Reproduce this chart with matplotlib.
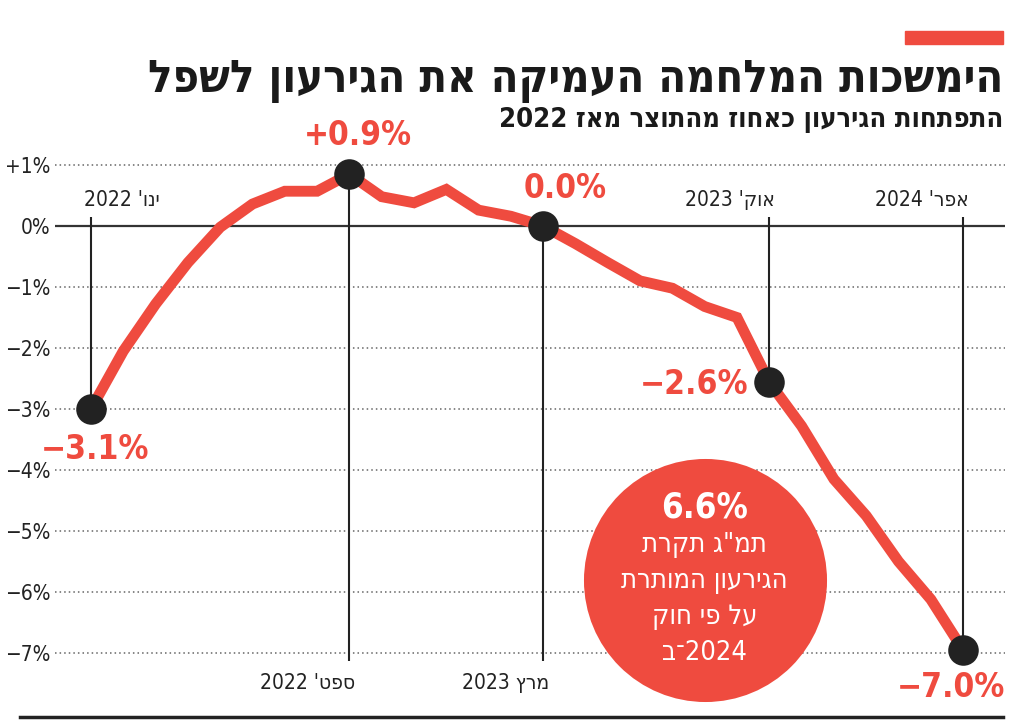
import re
import numpy as np
import matplotlib
matplotlib.use("Agg")
import matplotlib.pyplot as plt

# data: budget deficit as % of GDP, monthly Jan 2022 .. Apr 2024
months = list(range(28))
deficit = [-3.0, -2.05, -1.28, -0.6, -0.02, 0.36, 0.57, 0.57, 0.85, 0.48, 0.38, 0.6,
           0.26, 0.16, 0.0, -0.29, -0.6, -0.9, -1.02, -1.32, -1.5, -2.56,
           -3.28, -4.15, -4.75, -5.5, -6.12, -6.95]
key_idx = [0, 8, 14, 21, 27]
key_labels = ["\u22123.1%", "+0.9%", "0.0%", "\u22122.6%", "\u22127.0%"]
key_dates = ["ינו' 2022", "ספט' 2022", "מרץ 2023", "אוק' 2023", "אפר' 2024"]
yticks = [1, 0, -1, -2, -3, -4, -5, -6, -7]
ytick_labels = ["+1%", "0%", "\u22121%", "\u22122%", "\u22123%", "\u22124%", "\u22125%", "\u22126%", "\u22127%"]

title = "הימשכות המלחמה העמיקה את הגירעון לשפל"
subtitle = "התפתחות הגירעון כאחוז מהתוצר מאז 2022"
bubble_big = "6.6%"
bubble_lines = ["תמ\"ג תקרת", "הגירעון המותרת", "על פי חוק"]
bubble_last = "ב־2024"   # drawn as it appears in the picture

RED = "#ef4b3f"
DARK = "#222222"


def heb(s):
    # matplotlib has no bidi: reverse, then put LTR runs back in order
    out = s[::-1]
    return re.sub(r"[0-9A-Za-z.%+\u2212]+", lambda m: m.group(0)[::-1], out)


plt.rcParams["font.family"] = ["DejaVu Sans"]
plt.rcParams["font.stretch"] = "condensed"

W, H = 1024, 726
fig = plt.figure(figsize=(W / 100, H / 100), dpi=100)

# axes placement (pixel based)
px_month = 32.3
x0_px = 91
y0_px = 226
py_unit = 61
ax_left, ax_right, ax_top, ax_bot = 55, 1005, 140, 705
ax = fig.add_axes([ax_left / W, 1 - ax_bot / H, (ax_right - ax_left) / W, (ax_bot - ax_top) / H])
ax.set_xlim((ax_left - x0_px) / px_month, (ax_right - x0_px) / px_month)
ax.set_ylim((y0_px - ax_bot) / py_unit, (y0_px - ax_top) / py_unit)
for s in ax.spines.values():
    s.set_visible(False)
ax.set_xticks([])
ax.set_yticks(yticks)
ax.set_yticklabels(ytick_labels, fontsize=15, color=DARK)
ax.tick_params(axis="y", length=0, pad=3)

# gridlines
for t in yticks:
    if t == 0:
        ax.axhline(0, color="#333333", lw=1.6, zorder=1)
    else:
        ax.axhline(t, color="#666666", lw=1.1, ls=(0, (1, 2)), zorder=1)

# vertical marker lines
top_y = 0.15
bot_y = (y0_px - 661) / py_unit
for k, i in enumerate(key_idx):
    v = deficit[i]
    if k in (1, 2):
        ax.vlines(i, bot_y, v, color=DARK, lw=1.5, zorder=2)
    else:
        ax.vlines(i, v, top_y, color=DARK, lw=1.5, zorder=2)

# bubble
ax.plot([19.0], [-5.8], marker="o", ms=175, color=RED, mec="none", zorder=2, clip_on=False)
ax.text(19.0, (y0_px - 507) / py_unit, bubble_big, color="white", fontsize=25,
        fontweight="bold", ha="center", va="center", zorder=5)
for n, line in enumerate(bubble_lines):
    ax.text(19.0, (y0_px - 545 - 36 * n) / py_unit, heb(line), color="white", fontsize=19.5,
            ha="center", va="center", zorder=5)
ax.text(19.0, (y0_px - 653) / py_unit, bubble_last, color="white", fontsize=19.5,
        ha="center", va="center", zorder=5)

# main line
ax.plot(months, deficit, color=RED, lw=7.8, solid_joinstyle="miter", zorder=3)
ax.plot([months[i] for i in key_idx], [deficit[i] for i in key_idx], "o", ms=22,
        color=DARK, mec="none", zorder=4)

# value labels
offsets = [(3, -29), (6, 28), (16, 27), (-54, -2), (-9, -27)]
for i, lab, off in zip(key_idx, key_labels, offsets):
    ax.annotate(lab, (i, deficit[i]), xytext=off, textcoords="offset points",
                ha="center", va="center", color=RED, fontsize=24, fontweight="bold",
                zorder=6, annotation_clip=False)

# date labels
top_lab_y = (y0_px - 200) / py_unit
bot_lab_y = (y0_px - 683) / py_unit
for k, (i, lab) in enumerate(zip(key_idx, key_dates)):
    yy = bot_lab_y if k in (1, 2) else top_lab_y
    if k == 0:
        ax.annotate(heb(lab), (i, yy), xytext=(-5, 0), textcoords="offset points",
                    ha="left", va="center", fontsize=15, color=DARK)
    else:
        ax.annotate(heb(lab), (i, yy), xytext=(4, 0), textcoords="offset points",
                    ha="right", va="center", fontsize=15, color=DARK, annotation_clip=False)

# title / subtitle, sized to the reference widths
renderer = fig.canvas.get_renderer()


def fit_text(txt, y_px, width_px, size, **kw):
    t = fig.text(1003 / W, 1 - y_px / H, txt, ha="right", va="baseline", fontsize=size, **kw)
    w = t.get_window_extent(renderer).width
    t.set_fontsize(size * width_px / w)
    return t


fit_text(heb(title), 92, 853, 30, fontweight="bold", color="#1a1a1a")
fit_text(heb(subtitle), 127, 506, 16, fontweight="bold", color="#1a1a1a")

# top red bar and bottom rule
fig.patches.append(plt.Rectangle((905 / W, 1 - 44 / H), 98 / W, 13 / H,
                                 transform=fig.transFigure, color=RED, figure=fig))
fig.add_artist(plt.Line2D([20 / W, 1003 / W], [1 - 717 / H, 1 - 717 / H],
                          transform=fig.transFigure, color=DARK, lw=2.5))

fig.savefig("out.png", dpi=100)
